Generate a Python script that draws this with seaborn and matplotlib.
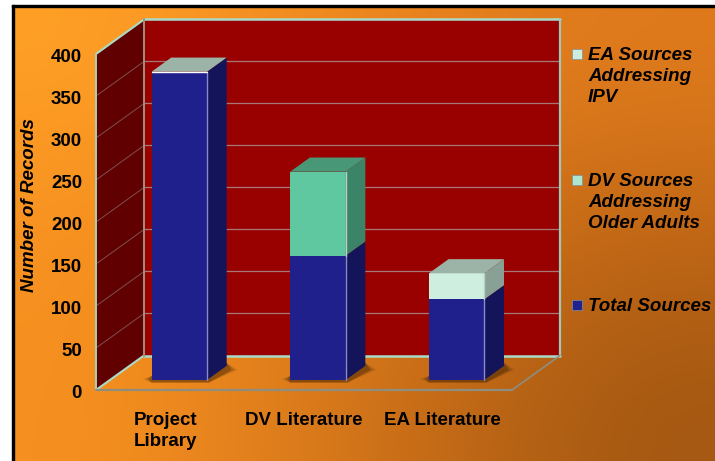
import numpy as np
import matplotlib
matplotlib.use("Agg")
import matplotlib.pyplot as plt
import seaborn as sns
from matplotlib.patches import Polygon, Rectangle
from matplotlib.transforms import Affine2D, IdentityTransform

categories = ["Project\nLibrary", "DV Literature", "EA Literature"]
total_sources = [367, 148, 96]
dv_older_adults = [0, 100, 0]
ea_ipv = [0, 0, 31]
y_ticks = [0, 50, 100, 150, 200, 250, 300, 350, 400]

legend_labels = ["EA Sources\nAddressing\nIPV", "DV Sources\nAddressing\nOlder Adults", "Total Sources"]
legend_colors = ["#CDEEDF", "#AEE5CF", "#22228F"]
legend_y = [54, 180, 305]

W, H = 715, 461
DEPTH_X, DEPTH_Y = 48, 34.5
BAR_FRONT, BAR_BACK = 0.29, 0.70

# front, side colours per series, top colour per bar
series_colors = [("#20208C", "#14145A"), ("#60C8A0", "#3C8468"), ("#CEEEDF", "#88A095")]
top_colors = ["#9CB4A8", "#489878", "#9CB4A8"]

sns.set_style("white")
plt.rcParams["font.family"] = ["Liberation Sans", "DejaVu Sans"]

fig = plt.figure(figsize=(W / 100, H / 100), dpi=100, facecolor="white")

# orange background, brown towards the bottom right corner
bg = fig.add_axes([14 / W, 0, 1 - 14 / W, 1 - 7 / H])
bg_colors = np.array([
    [[255, 160, 38], [243, 141, 33], [230, 128, 30], [222, 122, 28]],
    [[250, 150, 34], [234, 132, 30], [216, 118, 26], [204, 110, 24]],
    [[247, 145, 32], [228, 128, 28], [202, 110, 24], [180, 96, 20]],
    [[246, 144, 32], [224, 126, 28], [192, 104, 22], [164, 88, 18]],
]) / 255
bg.imshow(bg_colors, aspect="auto", interpolation="bicubic")
bg.axis("off")
fig.add_artist(Rectangle((12 / W, 0), 2 / W, 1 - 5 / H, color="black", transform=fig.transFigure))
fig.add_artist(Rectangle((12 / W, 1 - 7 / H), 1, 2 / H, color="black", transform=fig.transFigure))

ax = fig.add_axes([96 / W, 1 - 390 / H, 416 / W, 336 / H], facecolor="none")

bottom_dv = np.array(total_sources)
bottom_ea = bottom_dv + np.array(dv_older_adults)
sns.barplot(x=categories, y=total_sources, color=series_colors[0][0], width=0.4,
            saturation=1, linewidth=0, ax=ax, zorder=5)
sns.barplot(x=categories, y=dv_older_adults, bottom=bottom_dv, color=series_colors[1][0], width=0.4,
            saturation=1, linewidth=0, ax=ax, zorder=5)
sns.barplot(x=categories, y=ea_ipv, bottom=bottom_ea, color=series_colors[2][0], width=0.4,
            saturation=1, linewidth=0, ax=ax, zorder=5)
ax.set_xlim(-0.5, 2.5)
ax.set_ylim(0, 400)


def depth(d):
    return ax.transData + Affine2D().translate(DEPTH_X * d, DEPTH_Y * d)


def pt(x, y, d):
    px = ax.transData.transform((x, y))
    return px[0] + DEPTH_X * d, px[1] + DEPTH_Y * d


def face(points, color, z, **kw):
    ax.add_patch(Polygon(points, closed=True, facecolor=color, edgecolor="none",
                         transform=IdentityTransform(), zorder=z, clip_on=False, **kw))


def seg(p, q, color, lw, z):
    a, b = pt(*p), pt(*q)
    ax.plot([a[0], b[0]], [a[1], b[1]], color=color, lw=lw, transform=IdentityTransform(),
            zorder=z, clip_on=False)


# walls
face([pt(-0.5, 0, 1), pt(2.5, 0, 1), pt(2.5, 400, 1), pt(-0.5, 400, 1)], "#990000", 1)
face([pt(-0.5, 0, 0), pt(-0.5, 0, 1), pt(-0.5, 400, 1), pt(-0.5, 400, 0)], "#600000", 1)
for v in y_ticks[1:-1]:
    seg((-0.5, v, 1), (2.5, v, 1), "#A87878", 0.9, 2)
    seg((-0.5, v, 0), (-0.5, v, 1), "#805050", 0.7, 2)

edge = "#A8DCC8"
seg((-0.5, 400, 0), (-0.5, 400, 1), edge, 1.5, 3)
seg((-0.5, 400, 1), (2.5, 400, 1), edge, 1.8, 3)
seg((2.5, 400, 1), (2.5, 0, 1), "#A0C8B8", 1.6, 3)
seg((2.5, 0, 1), (-0.5, 0, 1), edge, 1.8, 3)
seg((-0.5, 0, 1), (-0.5, 0, 0), edge, 1.5, 3)
seg((-0.5, 0, 0), (-0.5, 400, 0), "#A8D0B8", 1.4, 3)
seg((-0.5, 0, 1), (-0.5, 400, 1), "#A09080", 1.4, 3)
seg((-0.5, 0, 0), (2.5, 0, 0), "#8E8E80", 1.6, 3)
seg((2.5, 0, 0), (2.5, 0, 1), "#8E8E80", 1.2, 3)

# bars: seaborn draws the fronts, pushed back into the box, sides and tops follow from them
n = len(categories)
for s, container in enumerate(ax.containers):
    for i, bar in enumerate(container):
        x0, y0, w, h = bar.get_x(), bar.get_y(), bar.get_width(), bar.get_height()
        x1 = x0 + w
        if s == 0:
            # soft shadow on the floor
            for grow, alpha in [(9, 0.12), (6, 0.2), (3, 0.3)]:
                sa = pt(x0, 0, BAR_FRONT)
                sb = pt(x1, 0, BAR_FRONT)
                sc = pt(x1, 0, BAR_BACK)
                face([(sa[0] - grow, sa[1] + 1), (sa[0], sa[1] - 2.5), (sb[0] + 2, sb[1] - 2.5),
                      (sc[0] + grow + 2, sc[1] - 4), (sc[0], sc[1] + 3), (sa[0], sa[1] + 4)],
                     "#3C2000", 4, alpha=alpha)
        if h <= 0:
            bar.set_visible(False)
            continue
        bar.set_transform(depth(BAR_FRONT))
        bar.set_clip_on(False)
        face([pt(x1, y0, BAR_FRONT), pt(x1, y0, BAR_BACK), pt(x1, y0 + h, BAR_BACK), pt(x1, y0 + h, BAR_FRONT)],
             series_colors[s][1], 5)
        seg((x1, y0, BAR_FRONT), (x1, y0 + h, BAR_FRONT), "#8A8AC8" if s == 0 else "#B8D0C8", 1, 6)

stack_tops = bottom_ea + np.array(ea_ipv)
first = ax.containers[0]
for i, bar in enumerate(first):
    x0, x1 = bar.get_x(), bar.get_x() + bar.get_width()
    top = stack_tops[i]
    face([pt(x0, top, BAR_FRONT), pt(x1, top, BAR_FRONT), pt(x1, top, BAR_BACK), pt(x0, top, BAR_BACK)],
         top_colors[i], 6)
seg((first[0].get_x(), stack_tops[0], BAR_FRONT), (first[0].get_x() + first[0].get_width(), stack_tops[0], BAR_FRONT),
    "white", 1, 7)

# axes text
sns.despine(ax=ax, left=True, bottom=True)
ax.set_yticks(y_ticks)
ax.set_yticklabels([str(t) for t in y_ticks], fontsize=13.5, fontweight="bold", color="black")
ax.tick_params(axis="y", length=0, pad=10)
for label in ax.get_yticklabels():
    label.set_transform(label.get_transform() + Affine2D().translate(0, -2))
ax.set_xticks(range(n))
ax.set_xticklabels(categories, fontsize=13.5, fontweight="bold", color="black", linespacing=1.38)
ax.tick_params(axis="x", length=0, pad=15.5)
for label in ax.get_xticklabels():
    label.set_verticalalignment("top")
fig.text(30 / W, 1 - 205 / H, "Number of Records", rotation=90, ha="center", va="center",
         fontsize=13.5, fontweight="bold", fontstyle="italic", color="black")

# legend
for label, color, y in zip(legend_labels, legend_colors, legend_y):
    fig.add_artist(Rectangle((572 / W, 1 - (y + 5) / H), 10 / W, 10 / H, facecolor=color,
                             edgecolor="#8090A0", lw=0.5, transform=fig.transFigure))
    fig.text(588 / W, 1 - (y - 7) / H, label, ha="left", va="top", fontsize=13.5, fontweight="bold",
             fontstyle="italic", color="black", linespacing=1.3, multialignment="left")

fig.savefig("out.png", dpi=100)
